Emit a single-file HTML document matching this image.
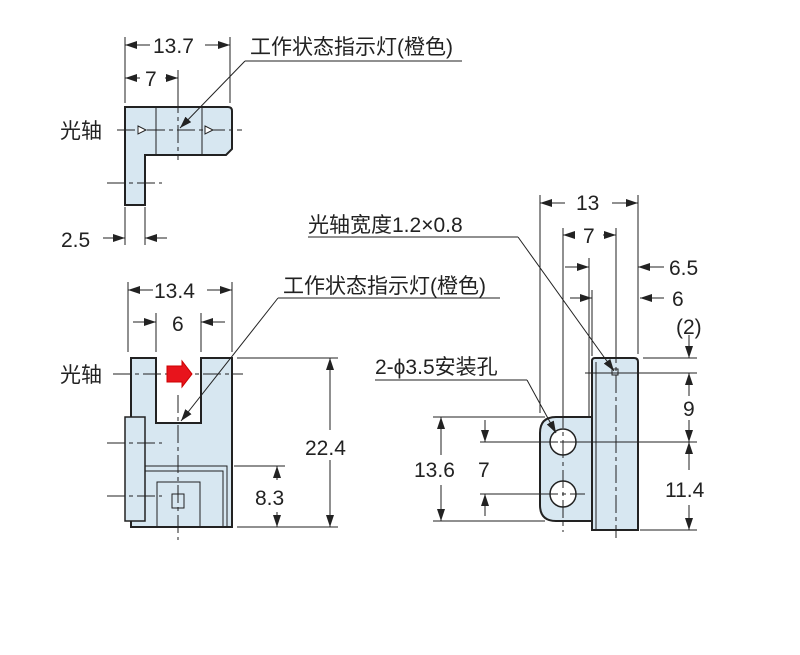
<!DOCTYPE html>
<html><head><meta charset="utf-8"><style>
html,body{margin:0;padding:0;background:#fff}
svg text{font-family:"Liberation Sans","Noto Sans CJK SC",sans-serif;font-size:21px;fill:#222}
</style></head><body>
<svg width="800" height="650" viewBox="0 0 800 650" xmlns="http://www.w3.org/2000/svg">
<defs>
<marker id="a" markerWidth="12" markerHeight="8" refX="12" refY="4" orient="auto" markerUnits="userSpaceOnUse"><path d="M0,0 L12,4 L0,8 Z" fill="#222"/></marker>
</defs>
<g stroke="#222" stroke-width="1" fill="none">
<path d="M125,107 H228 Q232,107 232,111 V149 L226,155 H145 V205 H125 Z" fill="#d7e7f1" stroke-width="2"/>
<line x1="156" y1="107" x2="156" y2="155"/><line x1="202" y1="107" x2="202" y2="155"/>
<path d="M117,130 H242 M178,95 V160 M107,183 H162" stroke-dasharray="18,4,4,4"/>
<path d="M138,126 L146,130 L138,134 Z M205,126 L213,130 L205,134 Z" fill="#fff"/>
<line x1="125" y1="37" x2="125" y2="103"/><line x1="230" y1="37" x2="230" y2="103"/>
<line x1="150" y1="45" x2="125" y2="45" marker-end="url(#a)"/><line x1="205" y1="45" x2="230" y2="45" marker-end="url(#a)"/>
<line x1="140" y1="78" x2="125" y2="78" marker-end="url(#a)"/><line x1="165" y1="78" x2="178" y2="78" marker-end="url(#a)"/>
<line x1="178" y1="70" x2="178" y2="100"/>
<polyline points="462,61 245,61"/><line x1="245" y1="61" x2="180" y2="128" marker-end="url(#a)"/>
<line x1="125" y1="207" x2="125" y2="245"/><line x1="145" y1="207" x2="145" y2="245"/>
<line x1="103" y1="238" x2="125" y2="238" marker-end="url(#a)"/><line x1="167" y1="238" x2="145" y2="238" marker-end="url(#a)"/>
<path d="M131,358 H156 V423 H201 V358 H232 V527 H131 Z" fill="#d7e7f1" stroke-width="2"/>
<rect x="125" y="417" width="20" height="104" fill="#d7e7f1" stroke-width="1.5"/>
<path d="M145,466 H227 V527 M145,471 H223 V527"/>
<rect x="157" y="482" width="43" height="45"/><rect x="172" y="494" width="12" height="14"/>
<path d="M113,374 H243 M178,395 V540 M107,443 H162 M107,496 H162" stroke-dasharray="18,4,4,4"/>
<path d="M167,366 H182 V361 L192,374 L182,387 V382 H167 Z" fill="#e8141c" stroke="#c00"/>
<line x1="128" y1="282" x2="128" y2="352"/><line x1="232" y1="282" x2="232" y2="352"/>
<line x1="153" y1="290" x2="128" y2="290" marker-end="url(#a)"/><line x1="207" y1="290" x2="232" y2="290" marker-end="url(#a)"/>
<line x1="156" y1="313" x2="156" y2="352"/><line x1="201" y1="313" x2="201" y2="352"/>
<line x1="133" y1="322" x2="156" y2="322" marker-end="url(#a)"/><line x1="225" y1="322" x2="201" y2="322" marker-end="url(#a)"/>
<line x1="237" y1="358" x2="338" y2="358"/><line x1="237" y1="527" x2="338" y2="527"/><line x1="234" y1="466" x2="285" y2="466"/>
<line x1="330" y1="430" x2="330" y2="358" marker-end="url(#a)"/><line x1="330" y1="460" x2="330" y2="527" marker-end="url(#a)"/>
<line x1="277" y1="480" x2="277" y2="466" marker-end="url(#a)"/><line x1="277" y1="512" x2="277" y2="527" marker-end="url(#a)"/>
<polyline points="500,298 278,298"/><line x1="278" y1="298" x2="181" y2="421" marker-end="url(#a)"/>
<path d="M556,417 H592 V521 H556 Q540,521 540,505 V433 Q540,417 556,417 Z" fill="#d7e7f1" stroke-width="2"/>
<path d="M595,358 H634 Q638,358 638,362 V530 H592 V361 Q592,358 595,358 Z" fill="#d7e7f1" stroke-width="2"/>
<line x1="596" y1="362" x2="596" y2="530"/>
<circle cx="563" cy="442" r="13" fill="#fff" stroke-width="1.5"/><circle cx="563" cy="494" r="13" fill="#fff" stroke-width="1.5"/>
<path d="M563,410 V532 M540,442 H585 M540,494 H585 M616,345 V538" stroke-dasharray="18,4,4,4"/>
<rect x="612" y="369" width="6" height="6"/>
<line x1="540" y1="195" x2="540" y2="413"/><line x1="638" y1="195" x2="638" y2="354"/>
<line x1="565" y1="203" x2="540" y2="203" marker-end="url(#a)"/><line x1="612" y1="203" x2="638" y2="203" marker-end="url(#a)"/>
<line x1="563" y1="228" x2="563" y2="420"/><line x1="616" y1="228" x2="616" y2="345"/>
<line x1="575" y1="235" x2="563" y2="235" marker-end="url(#a)"/><line x1="603" y1="235" x2="616" y2="235" marker-end="url(#a)"/>
<line x1="589" y1="258" x2="589" y2="416"/>
<line x1="565" y1="267" x2="589" y2="267" marker-end="url(#a)"/><line x1="664" y1="267" x2="638" y2="267" marker-end="url(#a)"/>
<line x1="592" y1="290" x2="592" y2="356"/>
<line x1="570" y1="298" x2="592" y2="298" marker-end="url(#a)"/><line x1="664" y1="298" x2="640" y2="298" marker-end="url(#a)"/>
<line x1="643" y1="358" x2="697" y2="358"/><line x1="585" y1="373" x2="697" y2="373"/>
<line x1="560" y1="442" x2="697" y2="442"/><line x1="640" y1="530" x2="697" y2="530"/>
<line x1="689" y1="335" x2="689" y2="358" marker-end="url(#a)"/>
<line x1="689" y1="396" x2="689" y2="373" marker-end="url(#a)"/><line x1="689" y1="420" x2="689" y2="442" marker-end="url(#a)"/>
<line x1="689" y1="470" x2="689" y2="442" marker-end="url(#a)"/><line x1="689" y1="505" x2="689" y2="530" marker-end="url(#a)"/>
<line x1="433" y1="417" x2="545" y2="417"/><line x1="433" y1="521" x2="545" y2="521"/>
<line x1="480" y1="442" x2="540" y2="442"/><line x1="480" y1="494" x2="540" y2="494"/>
<line x1="441" y1="455" x2="441" y2="417" marker-end="url(#a)"/><line x1="441" y1="485" x2="441" y2="521" marker-end="url(#a)"/>
<line x1="485" y1="420" x2="485" y2="442" marker-end="url(#a)"/><line x1="485" y1="516" x2="485" y2="494" marker-end="url(#a)"/>
<polyline points="308,237 518,237"/><line x1="518" y1="237" x2="614" y2="371" marker-end="url(#a)"/>
<polyline points="375,380 527,380"/><line x1="527" y1="380" x2="556" y2="433" marker-end="url(#a)"/>
</g>
<g>
<text x="153" y="53">13.7</text>
<text x="145" y="86">7</text>
<text x="250" y="54">工作状态指示灯(橙色)</text>
<text x="60" y="138">光轴</text>
<text x="61" y="247">2.5</text>
<text x="154" y="298">13.4</text>
<text x="172" y="331">6</text>
<text x="283" y="293">工作状态指示灯(橙色)</text>
<text x="60" y="382">光轴</text>
<text x="305" y="455">22.4</text>
<text x="255" y="505">8.3</text>
<text x="576" y="210">13</text>
<text x="583" y="243">7</text>
<text x="308" y="232">光轴宽度1.2×0.8</text>
<text x="669" y="275">6.5</text>
<text x="672" y="306">6</text>
<text x="676" y="334">(2)</text>
<text x="375" y="374">2-ϕ3.5安装孔</text>
<text x="683" y="416">9</text>
<text x="665" y="497">11.4</text>
<text x="414" y="477">13.6</text>
<text x="478" y="477">7</text>
</g>
</svg>
</body></html>
